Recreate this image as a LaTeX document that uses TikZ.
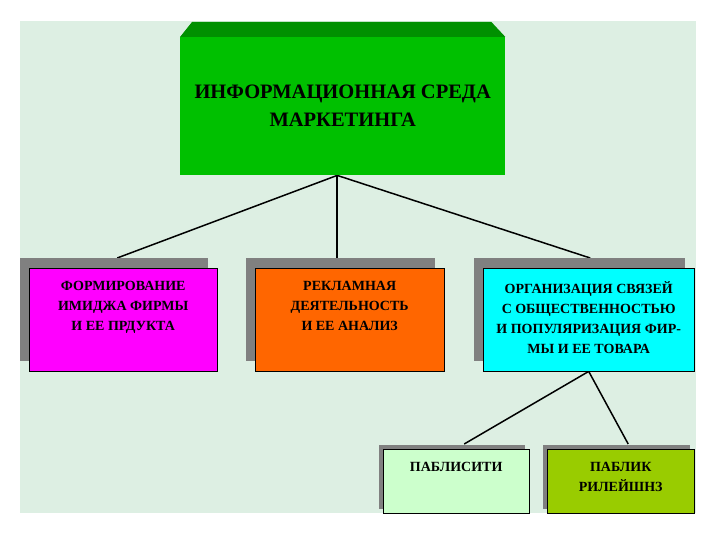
\documentclass[tikz,border=0pt]{standalone}
\usepackage{fontspec}
\setmainfont{Liberation Serif}
\usetikzlibrary{shadows,backgrounds}

\definecolor{bggreen}{HTML}{DDEFE3}
\definecolor{envgreen}{HTML}{00C000}
\definecolor{bevelgreen}{HTML}{009000}
\definecolor{shadowgray}{HTML}{808080}
\definecolor{imgmagenta}{HTML}{FF00FF}
\definecolor{adsorange}{HTML}{FF6600}
\definecolor{prcyan}{HTML}{00FFFF}
\definecolor{pubgreen}{HTML}{CCFFCC}
\definecolor{relolive}{HTML}{99CC00}

\begin{document}
\begin{tikzpicture}[x=1pt, y=-1pt,
    block/.style={draw=black, thin, anchor=north west, inner sep=0pt},
    shadowbig/.style={general shadow={fill=shadowgray, shadow xshift=-9pt, shadow yshift=10pt}},
    shadowsmall/.style={general shadow={fill=shadowgray, shadow xshift=-4pt, shadow yshift=4pt}},
    boxtext/.style={anchor=north, align=center, inner sep=0pt, yshift=-13pt,
        font=\fontsize{14}{20}\selectfont\bfseries},
    link/.style={draw=black, line width=1.5pt}
]
    \useasboundingbox (0,0) rectangle (720,540);

    % top box
    \node[anchor=north west, fill=envgreen, minimum width=325pt, minimum height=138pt,
        align=center, font=\fontsize{20.5}{28}\selectfont\bfseries] (env) at (180,37)
        {ИНФОРМАЦИОННАЯ СРЕДА\\МАРКЕТИНГА};
    \fill[bevelgreen] (env.north west) -- ++(12,-15)
        -- ([xshift=-14pt,yshift=15pt]env.north east) -- (env.north east) -- cycle;

    % second row
    \node[block, shadowbig, fill=imgmagenta, minimum width=188pt, minimum height=103pt,
        label={[boxtext]north:{ФОРМИРОВАНИЕ\\ИМИДЖА ФИРМЫ\\И ЕЕ ПРДУКТА}}] (image) at (29,268) {};
    \node[block, shadowbig, fill=adsorange, minimum width=189pt, minimum height=103pt,
        label={[boxtext]north:{РЕКЛАМНАЯ\\ДЕЯТЕЛЬНОСТЬ\\И ЕЕ АНАЛИЗ}}] (ads) at (255,268) {};
    \node[block, shadowbig, fill=prcyan, minimum width=211pt, minimum height=103pt,
        label={[boxtext]north:{ОРГАНИЗАЦИЯ СВЯЗЕЙ\\С ОБЩЕСТВЕННОСТЬЮ\\И ПОПУЛЯРИЗАЦИЯ ФИР-\\МЫ И ЕЕ ТОВАРА}}] (pr) at (483,268) {};

    % third row
    \node[block, shadowsmall, fill=pubgreen, minimum width=146pt, minimum height=64pt,
        label={[boxtext]north:{ПАБЛИСИТИ}}] (pub) at (383,449) {};
    \node[block, shadowsmall, fill=relolive, minimum width=147pt, minimum height=64pt,
        label={[boxtext]north:{ПАБЛИК\\РИЛЕЙШНЗ}}] (rel) at (547,449) {};

    \begin{pgfonlayer}{background}
        \fill[bggreen] (20,21) rectangle (696,513);
        \draw[link] ([xshift=-5.5pt]env.south) -- ([xshift=-6pt,yshift=10pt]image.north);
        \draw[link] ([xshift=-5.5pt]env.south) -- ([xshift=-12.5pt,yshift=10pt]ads.north);
        \draw[link] ([xshift=-5.5pt]env.south) -- ([xshift=1.5pt,yshift=10pt]pr.north);
        \draw[link] (pr.south) -- ([xshift=8pt,yshift=5pt]pub.north);
        \draw[link] (pr.south) -- ([xshift=7.5pt,yshift=5pt]rel.north);
    \end{pgfonlayer}
\end{tikzpicture}
\end{document}
